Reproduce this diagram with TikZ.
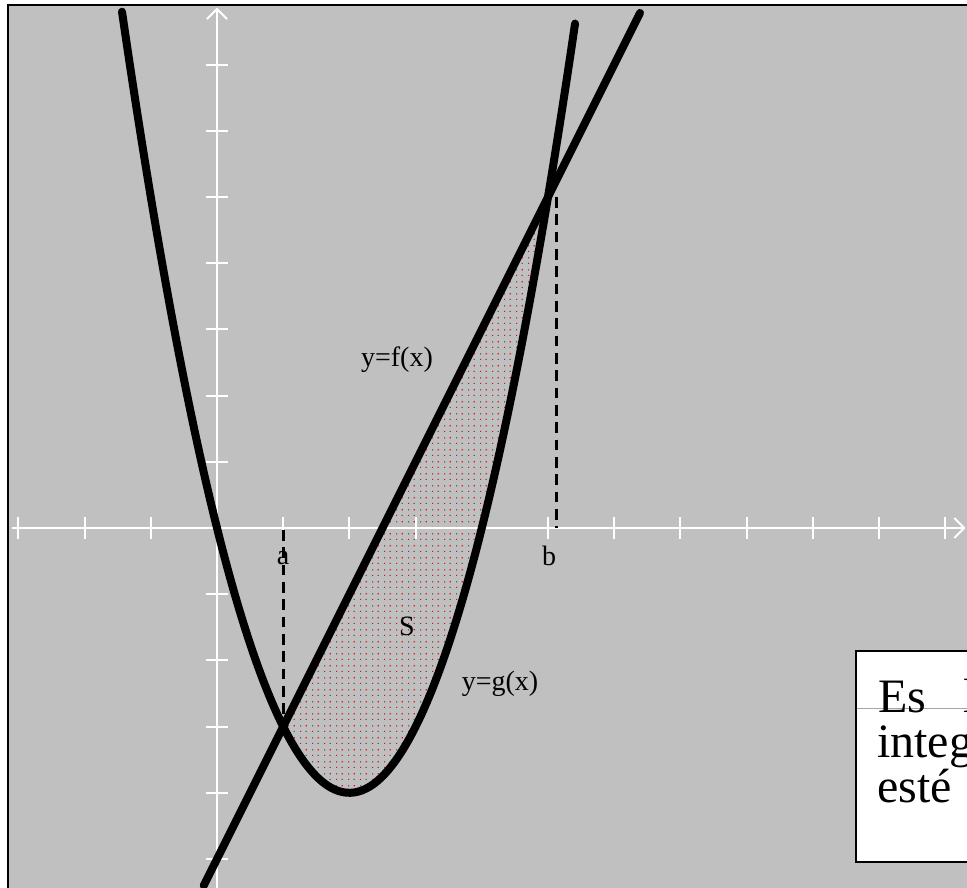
\documentclass[tikz,border=0pt]{standalone}
\usepackage{fontspec}
\setmainfont{Liberation Serif}
\usetikzlibrary{arrows.meta,patterns}

\definecolor{fondo}{RGB}{192,192,192}
\pgfdeclarepatterninherentlycolored{puntos}{\pgfpointorigin}{\pgfqpoint{9pt}{9pt}}{\pgfqpoint{9pt}{9pt}}{%
  \pgfsetfillcolor{red}%
  \pgfpathrectangle{\pgfqpoint{0pt}{0pt}}{\pgfqpoint{1pt}{1pt}}%
  \pgfpathrectangle{\pgfqpoint{4.5pt}{4.5pt}}{\pgfqpoint{1pt}{1pt}}%
  \pgfusepath{fill}%
  \pgfsetfillcolor{black!80}%
  \pgfpathrectangle{\pgfqpoint{4.5pt}{0pt}}{\pgfqpoint{0.9pt}{0.9pt}}%
  \pgfpathrectangle{\pgfqpoint{0pt}{4.5pt}}{\pgfqpoint{0.9pt}{0.9pt}}%
  \pgfusepath{fill}%
}

\tikzset{
  eje/.style={white, line width=1.5pt},
  flecha/.style={-{Straight Barb[length=7.5pt,width=15pt,line width=1.5pt]}},
  curva/.style={line width=6pt, line cap=round},
  guia/.style={line width=2pt, dash pattern=on 8pt off 5pt},
  etiqueta/.style={font=\fontsize{21}{25}\selectfont, inner sep=0pt},
  renglon/.style={font=\fontsize{36}{40}\selectfont, inner sep=0pt, anchor=base west}
}

\begin{document}
\begin{tikzpicture}[x=0.75pt,y=0.75pt,yscale=-1]
\useasboundingbox (0,0) rectangle (967,888);
\clip (0,0) rectangle (967,888);

%fondo gris con marco
\fill[white] (0,0) rectangle (967,888);
\draw[line width=1.5pt, fill=fondo] (8,5) rectangle (1000,920);

\begin{scope}[shift={(217,528)}, x=49.65pt, y=-49.65pt]
  \coordinate (A) at (1,-3);
  \coordinate (B) at (5.13,5);
  % region S
  \fill[pattern=puntos] plot[domain=1:5, samples=60] (\x,{\x*\x-4*\x}) -- cycle;
  % ejes
  \draw[eje, flecha] (-3.1,0) -- (11.31,0);
  \draw[eje, flecha] (0,-5.5) -- (0,7.86);
  \foreach \i in {-3,-2,-1,1,2,...,11}
    \draw[eje] (\i,-0.17) -- (\i,0.17);
  \foreach \j in {-5,...,-1,1,2,...,7}
    \draw[eje] (-0.17,\j) -- (0.17,\j);
  % g y f
  \draw[curva] plot[domain=-1.435:5.41, samples=120, smooth] (\x,{\x*\x-4*\x});
  \draw[curva] (-0.2,-5.4) -- (6.39,7.78);
  % lineas a y b
  \draw[guia] (1,-0.03) -- (A);
  \draw[guia] (B) -- (5.13,0);
\end{scope}

\node[etiqueta] (fx) at (397,360) {y=f(x)};
\node[etiqueta] (gx) at (500,684) {y=g(x)};
\node[etiqueta] (s) at (407,626) {S};
\node[etiqueta] (a) at (283,558) {a};
\node[etiqueta] (b) at (549,556) {b};

% cuadro de texto
\draw[line width=1.5pt, fill=white] (856,651) rectangle (1000,862);
\draw[gray!70, line width=0.75pt] (857,708) -- (967,708);
\node[renglon] (l1) at (878,712) {Es\hspace{28pt}l};
\node[renglon] (l2) at (877,757) {integ};
\node[renglon] (l3) at (877,802) {esté};
\end{tikzpicture}
\end{document}
